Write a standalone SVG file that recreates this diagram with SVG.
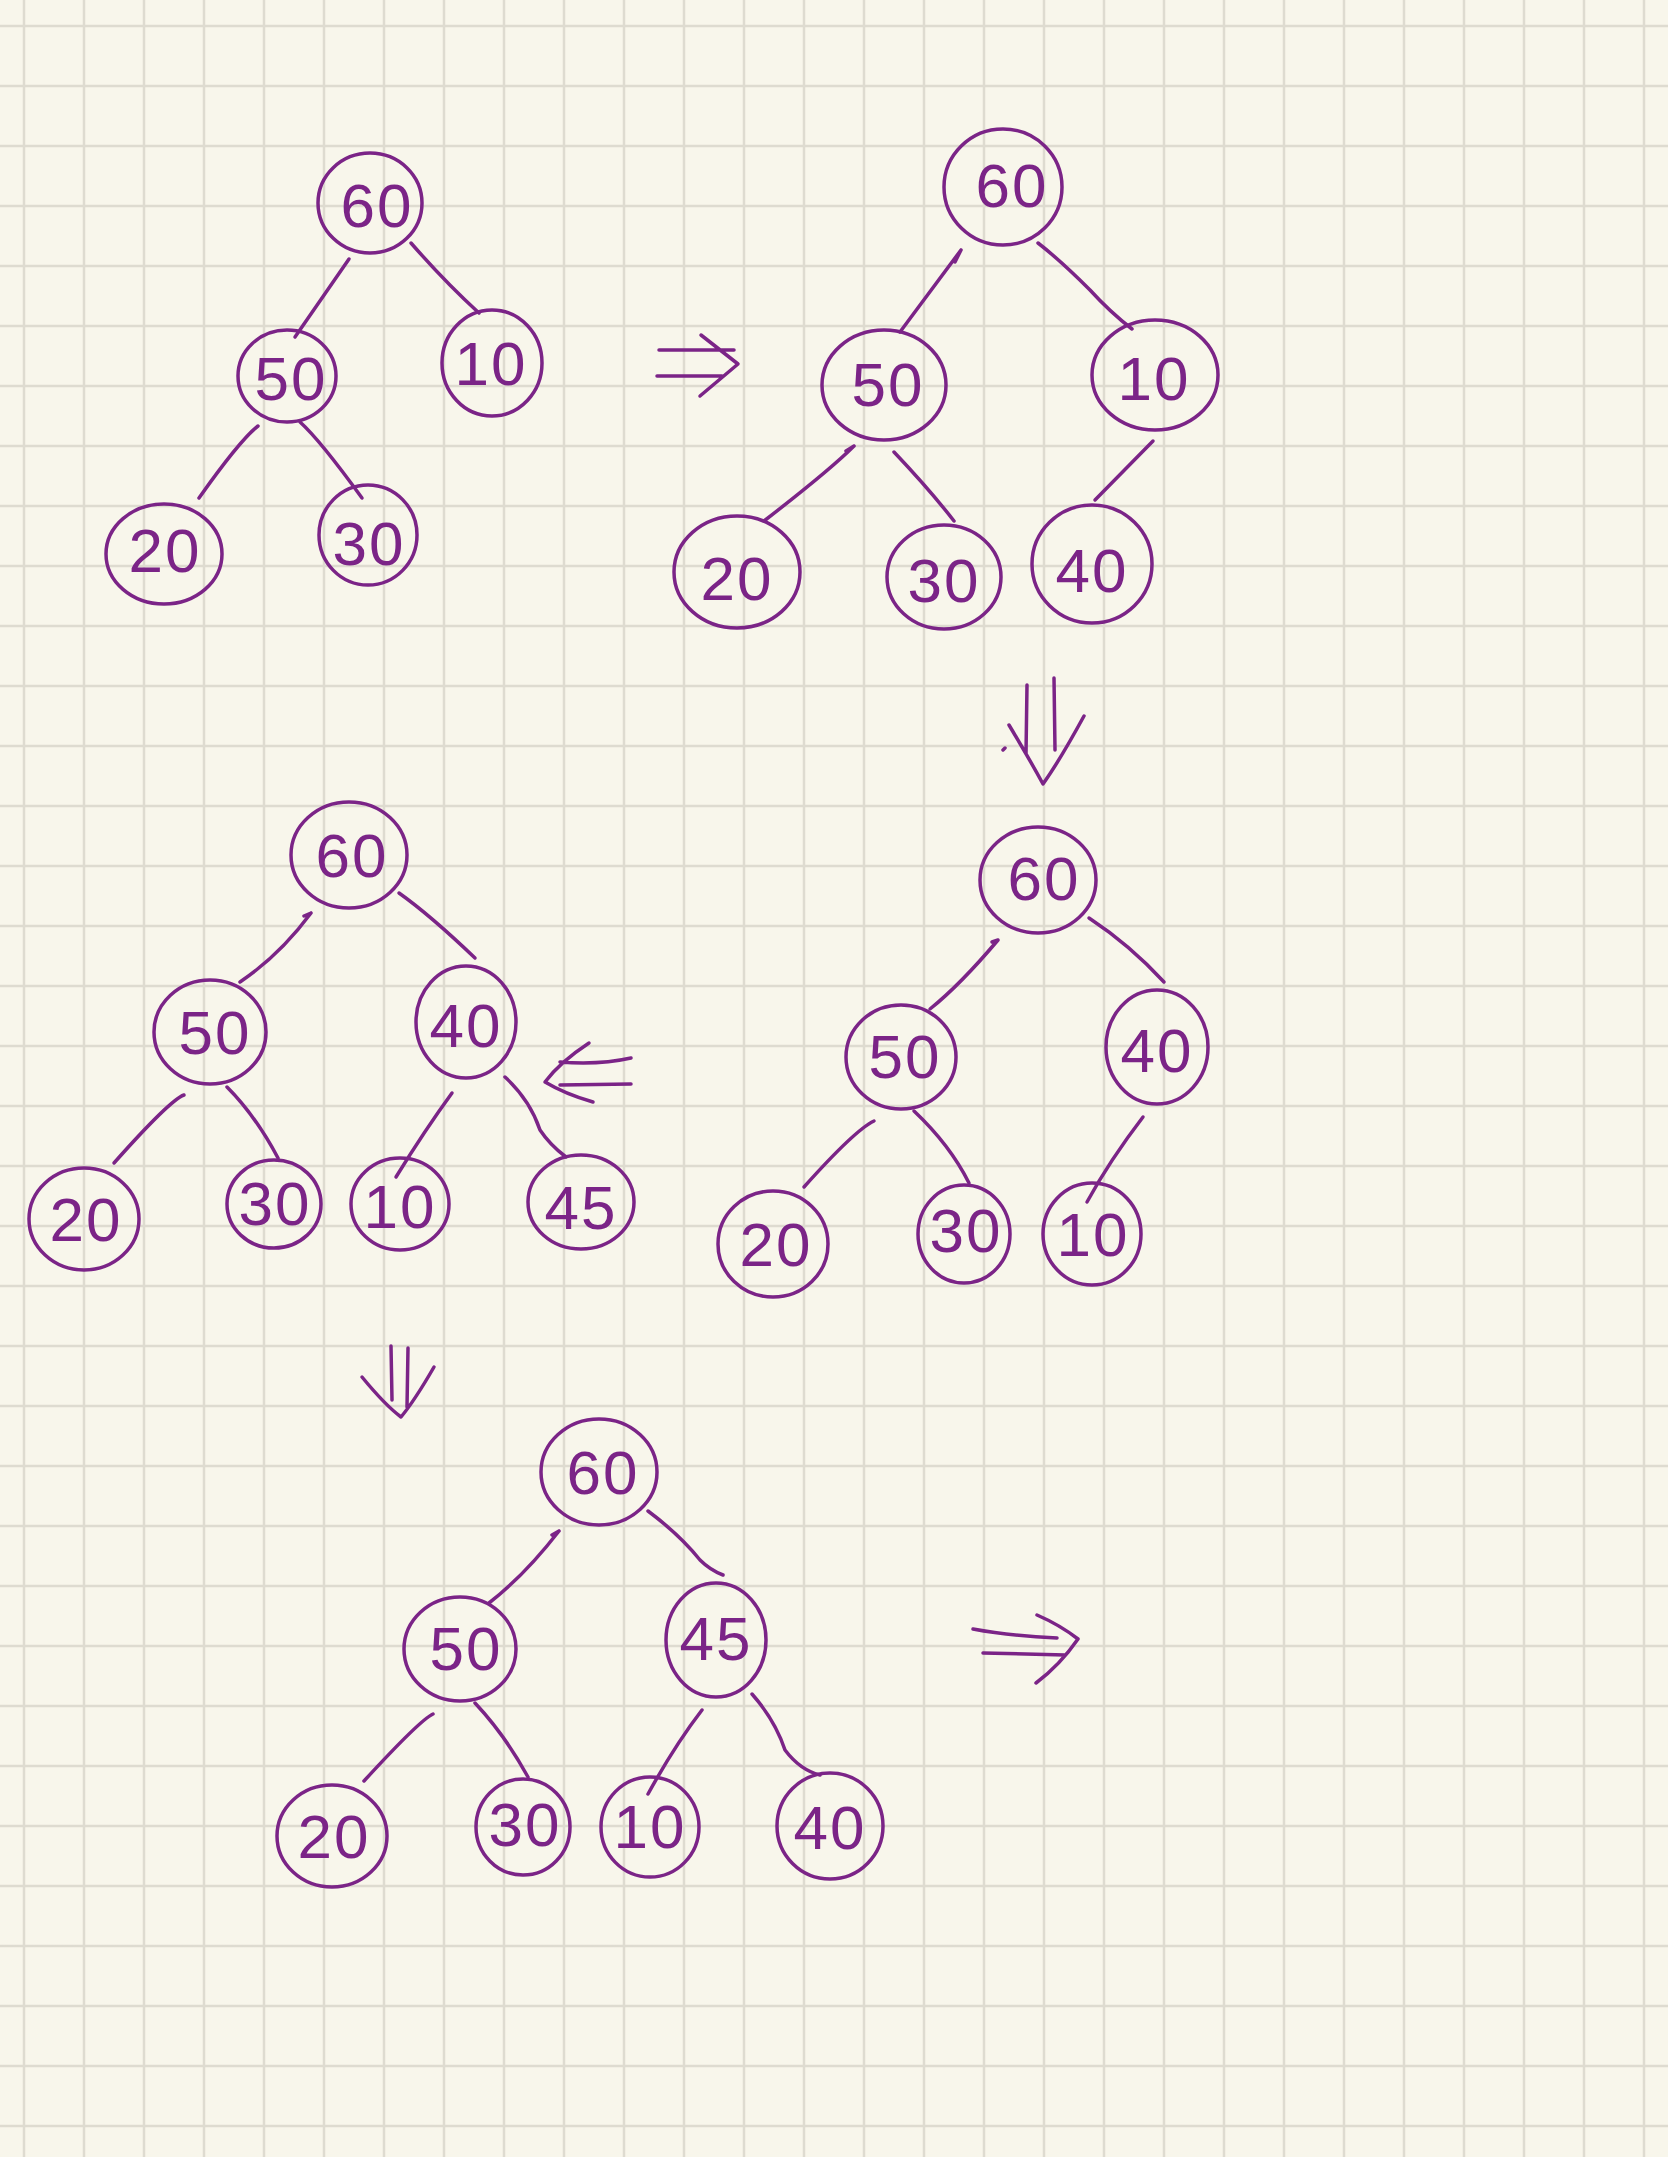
<svg xmlns="http://www.w3.org/2000/svg" width="1668" height="2157" viewBox="0 0 1668 2157">
<style>
.ink{fill:none;stroke:#7b2487;stroke-width:3.5;stroke-linecap:round;stroke-linejoin:round}
.node ellipse{fill:none;stroke:#7b2487;stroke-width:3.5}
.node text{fill:#7b2487;font-family:"Liberation Sans","DejaVu Sans",sans-serif;font-size:62px;text-anchor:middle;dominant-baseline:central;letter-spacing:2px}
</style>
<defs>
<pattern id="grid" patternUnits="userSpaceOnUse" x="-6" y="-4" width="60" height="60">
<path d="M30 0V60M0 30H60" stroke="#dedbd0" stroke-width="2.5" fill="none"/>
</pattern>
</defs>
<rect width="1668" height="2157" fill="#f8f6eb"/>
<rect width="1668" height="2157" fill="url(#grid)"/>

<g id="connectors">
<!-- tree 1 -->
<path class="ink" d="M349 259L295 337"/>
<path class="ink" d="M411 243Q445 282 479 313"/>
<path class="ink" d="M258 426Q240 440 199 498"/>
<path class="ink" d="M300 422Q320 440 362 498"/>
<!-- tree 2 -->
<path class="ink" d="M961 250L900 332M961 250L955 262"/>
<path class="ink" d="M1038 243Q1060 260 1090 290Q1110 312 1132 329"/>
<path class="ink" d="M854 446Q830 470 764 521M854 446L846 451"/>
<path class="ink" d="M894 452Q930 490 954 521"/>
<path class="ink" d="M1153 441L1095 500"/>
<!-- tree 3 -->
<path class="ink" d="M998 940Q960 985 930 1009M998 940L992 942"/>
<path class="ink" d="M1089 918Q1130 945 1164 982"/>
<path class="ink" d="M874 1121Q855 1130 804 1187"/>
<path class="ink" d="M914 1111Q950 1145 969 1183"/>
<path class="ink" d="M1143 1117Q1110 1160 1087 1202"/>
<!-- tree 4 -->
<path class="ink" d="M311 913Q280 955 240 982M311 913L304 916"/>
<path class="ink" d="M399 893Q430 915 475 958"/>
<path class="ink" d="M184 1095Q170 1100 114 1163"/>
<path class="ink" d="M227 1087Q255 1115 278 1158"/>
<path class="ink" d="M452 1093Q425 1130 396 1177"/>
<path class="ink" d="M505 1077Q530 1100 540 1130Q550 1145 566 1157"/>
<!-- tree 5 -->
<path class="ink" d="M559 1531Q525 1575 489 1603M559 1531L552 1535"/>
<path class="ink" d="M648 1511Q680 1535 700 1560Q710 1570 723 1575"/>
<path class="ink" d="M433 1714Q420 1720 364 1781"/>
<path class="ink" d="M475 1703Q505 1735 528 1777"/>
<path class="ink" d="M702 1710Q675 1745 648 1794"/>
<path class="ink" d="M752 1694Q775 1720 785 1750Q800 1770 820 1775"/>
</g>

<g id="transitions">
<path class="ink" d="M659 350L734 350M657 376L722 376M701 335L738 364L700 396"/>
<path class="ink" d="M1027 685L1026 754M1054 678L1055 750M1009 725Q1030 760 1043 784Q1060 760 1084 716M1003 750L1005 748"/>
<path class="ink" d="M631 1058Q600 1065 560 1062M631 1084L560 1085M589 1043Q560 1062 545 1082Q565 1094 593 1102"/>
<path class="ink" d="M391 1346L392 1400M408 1348L407 1407M362 1377Q385 1405 401 1417Q415 1400 434 1367"/>
<path class="ink" d="M973 1629Q1010 1636 1057 1638M983 1653L1065 1655M1037 1615Q1060 1625 1078 1639Q1060 1665 1036 1683"/>
</g>

<g id="t1-60" class="node"><ellipse cx="370" cy="203" rx="52" ry="50"/><text x="377" y="205">60</text></g>
<g id="t1-50" class="node"><ellipse cx="287" cy="376" rx="49" ry="46"/><text x="291" y="378">50</text></g>
<g id="t1-10" class="node"><ellipse cx="492" cy="363" rx="50" ry="53"/><text x="491" y="363">10</text></g>
<g id="t1-20" class="node"><ellipse cx="164" cy="554" rx="58" ry="50"/><text x="165" y="550">20</text></g>
<g id="t1-30" class="node"><ellipse cx="368" cy="535" rx="49" ry="50"/><text x="369" y="543">30</text></g>

<g id="t2-60" class="node"><ellipse cx="1003" cy="187" rx="59" ry="58"/><text x="1012" y="185">60</text></g>
<g id="t2-50" class="node"><ellipse cx="884" cy="385" rx="62" ry="55"/><text x="888" y="384">50</text></g>
<g id="t2-10" class="node"><ellipse cx="1155" cy="375" rx="63" ry="55"/><text x="1154" y="378">10</text></g>
<g id="t2-20" class="node"><ellipse cx="737" cy="572" rx="63" ry="56"/><text x="737" y="578">20</text></g>
<g id="t2-30" class="node"><ellipse cx="944" cy="577" rx="57" ry="52"/><text x="944" y="580">30</text></g>
<g id="t2-40" class="node"><ellipse cx="1092" cy="564" rx="60" ry="59"/><text x="1092" y="570">40</text></g>

<g id="t3-60" class="node"><ellipse cx="1038" cy="880" rx="58" ry="53"/><text x="1044" y="878">60</text></g>
<g id="t3-50" class="node"><ellipse cx="901" cy="1057" rx="55" ry="52"/><text x="905" y="1056">50</text></g>
<g id="t3-40" class="node"><ellipse cx="1157" cy="1047" rx="51" ry="57"/><text x="1157" y="1050">40</text></g>
<g id="t3-20" class="node"><ellipse cx="773" cy="1244" rx="55" ry="53"/><text x="776" y="1244">20</text></g>
<g id="t3-30" class="node"><ellipse cx="964" cy="1234" rx="46" ry="49"/><text x="966" y="1230">30</text></g>
<g id="t3-10" class="node"><ellipse cx="1092" cy="1234" rx="49" ry="51"/><text x="1093" y="1234">10</text></g>

<g id="t4-60" class="node"><ellipse cx="349" cy="855" rx="58" ry="53"/><text x="352" y="855">60</text></g>
<g id="t4-50" class="node"><ellipse cx="210" cy="1032" rx="56" ry="52"/><text x="215" y="1032">50</text></g>
<g id="t4-40" class="node"><ellipse cx="466" cy="1022" rx="50" ry="56"/><text x="466" y="1025">40</text></g>
<g id="t4-20" class="node"><ellipse cx="84" cy="1219" rx="55" ry="51"/><text x="86" y="1219">20</text></g>
<g id="t4-30" class="node"><ellipse cx="274" cy="1204" rx="47" ry="44"/><text x="275" y="1203">30</text></g>
<g id="t4-10" class="node"><ellipse cx="400" cy="1204" rx="49" ry="46"/><text x="400" y="1206">10</text></g>
<g id="t4-45" class="node"><ellipse cx="581" cy="1202" rx="53" ry="47"/><text x="581" y="1207">45</text></g>

<g id="t5-60" class="node"><ellipse cx="599" cy="1472" rx="58" ry="53"/><text x="603" y="1472">60</text></g>
<g id="t5-50" class="node"><ellipse cx="460" cy="1649" rx="56" ry="52"/><text x="466" y="1648">50</text></g>
<g id="t5-45" class="node"><ellipse cx="716" cy="1640" rx="50" ry="57"/><text x="716" y="1638">45</text></g>
<g id="t5-20" class="node"><ellipse cx="332" cy="1836" rx="55" ry="51"/><text x="334" y="1836">20</text></g>
<g id="t5-30" class="node"><ellipse cx="523" cy="1827" rx="47" ry="48"/><text x="525" y="1824">30</text></g>
<g id="t5-10" class="node"><ellipse cx="650" cy="1827" rx="49" ry="50"/><text x="650" y="1826">10</text></g>
<g id="t5-40" class="node"><ellipse cx="830" cy="1826" rx="53" ry="53"/><text x="830" y="1827">40</text></g>
</svg>
